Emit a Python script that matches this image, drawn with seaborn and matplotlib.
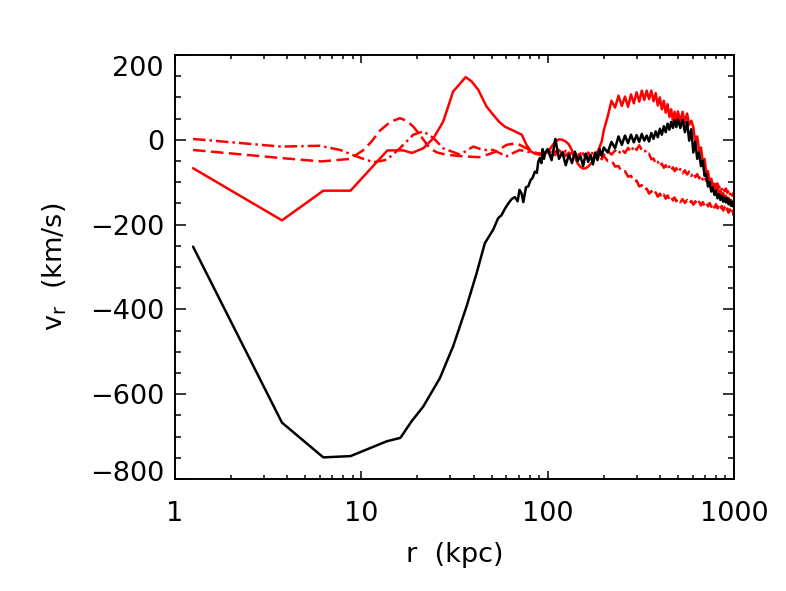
import matplotlib
matplotlib.use("Agg")
import matplotlib.pyplot as plt
import seaborn as sns
from matplotlib.ticker import LogLocator, MultipleLocator, NullFormatter
from matplotlib.transforms import ScaledTranslation

# ---------------- data ----------------
# inner (smooth) parts, r in kpc, v_r in km/s
R_BLACK_IN = [1.25, 3.75, 6.25, 8.75, 13.7, 16.2, 18.6, 21.5, 26.4, 31.1, 36.7, 41.6,
              46.0, 51.0, 54.2, 56.5, 58.9, 61.5, 64, 66.7, 69, 70.6, 72.5, 74, 76.5,
              78.6, 81, 83, 85.4, 87.5, 89, 90.8, 92.5, 94, 95.5, 97]
V_BLACK_IN = [-252, -667, -749, -746, -711, -703, -664, -629, -562, -487, -393, -314,
              -244, -212, -185, -178, -163, -150, -140, -135, -145, -118, -127, -147, -112,
              -110, -95, -90, -75, -78, -52, -43, -55, -22, -45, -30]

R_SOLID_IN = [1.25, 3.75, 6.25, 8.75, 13.8, 16.8, 18.7, 21.5, 24.4, 27.5, 31.1, 33.5,
              36.3, 39, 42.4, 46.9, 51.0, 55, 58.9, 66.6, 72.6, 77.0, 81.5, 86, 90.6, 95]
V_SOLID_IN = [-67, -190, -120, -120, -25, -25, -31, -20, 4, 43, 114, 130,
              148, 138, 118, 79, 59, 42, 31, 20, 12, -12, -28, -33, -35, -33]

R_DASH_IN = [1.25, 3.7, 6.1, 8.7, 10.2, 11.3, 12.6, 14.3, 16.1, 17.5, 19.0, 20.6,
             23.3, 25.5, 28.6, 35.1, 43.2, 52.8, 60.1, 67.9, 77, 87, 95]
V_DASH_IN = [-24, -43, -51, -45, -25, -5, 22, 42, 51, 45, 31, 12,
             -20, -30, -35, -39, -41, -28, -12, -8, -20, -31, -33]

R_DDOT_IN = [1.25, 3.7, 6.0, 7.7, 9.4, 11.6, 13.7, 16.1, 19.0, 21.5, 24.4, 27.5,
             33.8, 39.9, 45, 51, 60, 70.6, 83.5, 94]
V_DDOT_IN = [2, -16, -14, -24, -39, -53, -47, -20, 12, 20, 4, -20,
             -35, -16, -24, -24, -39, -24, -31, -35]

# outer (noisy) parts on a common radius list
R_OUT = [100, 105, 110, 115, 120, 125, 130, 135, 140, 145, 150, 155, 160, 165, 170,
         175, 180, 185, 190, 195, 200, 210, 220, 230, 240, 250, 260, 270, 280, 290,
         300, 310, 320, 330, 340, 350, 360, 370, 380, 390, 400, 410, 420, 430, 440,
         450, 460, 470, 480, 490, 500, 515, 530, 545, 560, 575, 590, 605, 620, 635,
         650, 665, 680, 695, 710, 725, 740, 755, 770, 785, 800, 815, 830, 845, 860,
         875, 890, 905, 920, 935, 950, 965, 980, 995, 1000]

V_BLACK_OUT = [-22, -48, 2, -45, -30, -60, -35, -55, -28, -50, -38, -62, -33, -52, -36,
               -58, -30, -48, -22, -38, -18, -30, -5, -20, 8, -12, 10, -8, 12, -6,
               11, -5, 14, -2, 10, -4, 16, 2, 20, 6, 26, 12, 32, 18, 38,
               24, 42, 28, 46, 30, 48, 28, 47, 18, 42, -2, 25, -30, -5, -45,
               -30, -62, -50, -85, -80, -110, -100, -122, -112, -130, -120, -138, -128, -142, -132,
               -146, -136, -148, -138, -152, -142, -156, -146, -158, -150]

V_SOLID_OUT = [-30, -16, -4, 1, 0, -4, -11, -25, -42, -56, -64, -68, -67, -63, -57,
               -50, -40, -30, -17, -4, 22, 55, 92, 76, 104, 80, 102, 78, 107, 86,
               112, 90, 116, 94, 116, 96, 116, 91, 110, 81, 100, 72, 92, 64, 84,
               54, 72, 44, 66, 42, 67, 43, 66, 40, 62, 35, 45, 30, -5, 8,
               -28, -18, -52, -45, -78, -74, -98, -92, -110, -104, -118, -112, -126, -120, -132,
               -126, -138, -132, -143, -137, -148, -142, -152, -146, -150]

V_DDOT_OUT = [-34, -26, -36, -24, -34, -26, -38, -30, -40, -31, -40, -32, -39, -30, -38,
              -29, -37, -28, -36, -27, -36, -26, -35, -25, -33, -22, -31, -19, -28, -15,
              -24, -13, -24, -22, -34, -33, -46, -44, -56, -52, -62, -56, -66, -60, -70,
              -63, -72, -65, -74, -67, -76, -69, -79, -72, -82, -75, -85, -78, -88, -81,
              -91, -84, -94, -87, -97, -91, -101, -95, -105, -99, -109, -103, -113, -107, -117,
              -111, -121, -115, -125, -119, -129, -122, -132, -125, -130]

V_DASH_OUT = [-28, -38, -27, -37, -28, -38, -30, -40, -31, -41, -32, -42, -33, -43, -34,
              -44, -34, -45, -35, -46, -38, -50, -48, -63, -62, -76, -74, -87, -85, -99,
              -96, -110, -107, -119, -115, -127, -121, -131, -124, -134, -127, -137, -129, -139, -131,
              -141, -134, -143, -136, -145, -138, -147, -140, -149, -142, -151, -144, -153, -145, -154,
              -146, -155, -147, -156, -148, -157, -149, -158, -150, -160, -152, -162, -154, -164, -156,
              -167, -159, -170, -162, -172, -164, -175, -167, -178, -172]

XTICKS = [1, 10, 100, 1000]
XTICK_LABELS = ["1", "10", "100", "1000"]
YTICKS = [-800, -600, -400, -200, 0, 200]
YTICK_LABELS = ["\u2212800", "\u2212600", "\u2212400", "\u2212200", "0", "200"]
XLABEL = "r  (kpc)"
YLABEL = r"$\mathregular{v_r}$  (km/s)"

# ---------------- style ----------------
sns.set_style("ticks")
plt.rcParams["font.family"] = ["DejaVu Sans"]
plt.rcParams["mathtext.default"] = "regular"
plt.rcParams["axes.linewidth"] = 1.4
plt.rcParams["axes.edgecolor"] = "black"
plt.rcParams["axes.labelcolor"] = "black"
plt.rcParams["text.color"] = "black"

fig = plt.figure(figsize=(7.86, 5.91), dpi=100)
ax = fig.add_axes([175 / 786, 1 - 479 / 591, (734 - 175) / 786, (479 - 55) / 591])
ax.set_xscale("log")

LW = 1.8
series = [
    (R_DASH_IN + R_OUT, V_DASH_IN + V_DASH_OUT, "red", (0, (5.0, 2.2))),
    (R_DDOT_IN + R_OUT, V_DDOT_IN + V_DDOT_OUT, "red", (0, (5.0, 1.6, 1.0, 1.6))),
    (R_SOLID_IN + R_OUT, V_SOLID_IN + V_SOLID_OUT, "red", "-"),
    (R_BLACK_IN + R_OUT, V_BLACK_IN + V_BLACK_OUT, "black", "-"),
]
for r, v, c, ls in series:
    sns.lineplot(x=r, y=v, color=c, linestyle=ls, linewidth=LW,
                 estimator=None, sort=False, ax=ax, legend=False)

ax.set_xlim(1, 1000)
ax.set_ylim(-800, 200)
ax.set_xticks(XTICKS)
ax.set_xticklabels(XTICK_LABELS)
ax.xaxis.set_minor_locator(LogLocator(base=10, subs=range(2, 10), numticks=20))
ax.xaxis.set_minor_formatter(NullFormatter())
ax.set_yticks(YTICKS)
ax.set_yticklabels(YTICK_LABELS)
ax.yaxis.set_minor_locator(MultipleLocator(50))

ax.tick_params(which="both", direction="in", top=True, right=True,
               color="black", width=1.1, labelsize=19.5, labelcolor="black")
ax.tick_params(axis="x", which="major", length=5.8, pad=15.5)
ax.tick_params(axis="x", which="minor", length=3.0)
ax.tick_params(axis="y", which="major", length=8.0, pad=8)
ax.tick_params(axis="y", which="minor", length=4.3)
for s in ax.spines.values():
    s.set_visible(True)
    s.set_linewidth(1.4)
    s.set_color("black")

ax.set_xlabel(XLABEL, fontsize=19.5, color="black")
ax.set_ylabel(YLABEL, fontsize=19.5, color="black")
ax.xaxis.set_label_coords(0.5, -0.148)
ax.yaxis.set_label_coords(-0.19, 0.5)

# nudge extreme y tick labels inward as in the reference
yt = ax.yaxis.get_major_ticks()
yt[-1].label1.set_transform(yt[-1].label1.get_transform()
                            + ScaledTranslation(0, -0.11, fig.dpi_scale_trans))
yt[0].label1.set_transform(yt[0].label1.get_transform()
                           + ScaledTranslation(0, 0.08, fig.dpi_scale_trans))

ax.grid(False)
fig.savefig("out.png", dpi=100, facecolor="white")
